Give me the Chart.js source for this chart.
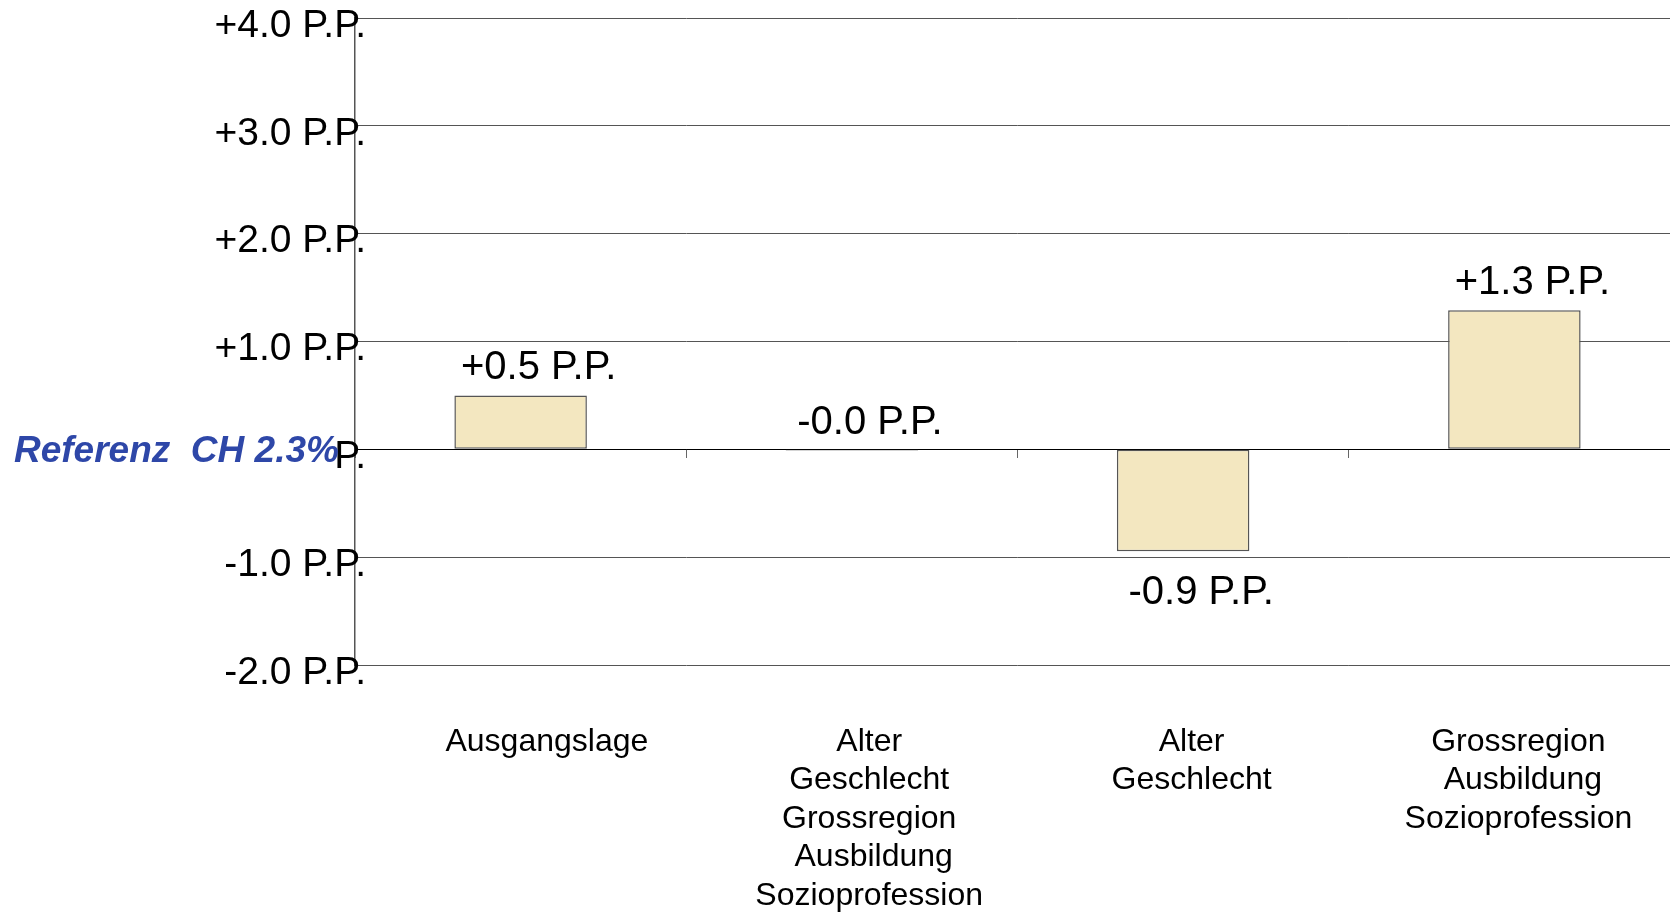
<!DOCTYPE html>
<html>
<head>
<meta charset="utf-8">
<script src="https://cdn.jsdelivr.net/npm/chart.js@4"></script>
<style>
  html, body { margin: 0; padding: 0; background: #fff; overflow: hidden; }
  #wrap { width: 1680px; height: 912px; }
</style>
</head>
<body>
<div id="wrap"><canvas id="chart" width="1680" height="912"></canvas></div>
<script>
// values
var categories = [
  ['     Ausgangslage'],
  ['   Alter', '   Geschlecht', '   Grossregion', '    Ausbildung', '   Sozioprofession'],
  [' Alter', ' Geschlecht'],
  ['Grossregion', ' Ausbildung', 'Sozioprofession']
];
var deltas = [0.5, -0.01, -0.945, 1.29];
var yTicks = [-2, -1, 0, 1, 2, 3, 4];
var referenceText = 'Referenz  CH 2.3%';

var FONT = '"Liberation Sans", Arial, sans-serif';

function pp(v) {
  var s = v.toFixed(1);
  if (s.charAt(0) !== '-') s = '+' + s;
  return s + ' P.P.';
}

// y tick labels, drawn here so they may overlap the axis line like the original
var yLabels = {
  id: 'yLabels',
  afterDraw: function (chart) {
    var ctx = chart.ctx;
    var sc = chart.scales.y;
    ctx.save();
    ctx.font = '39px ' + FONT;
    ctx.fillStyle = '#000';
    ctx.textAlign = 'right';
    ctx.textBaseline = 'middle';
    sc.ticks.forEach(function (t) {
      ctx.fillText(pp(t.value), sc.right + 11, sc.getPixelForValue(t.value) + 8);
    });
    ctx.restore();
  }
};

// value labels next to the bars
var barLabels = {
  id: 'barLabels',
  afterDatasetsDraw: function (chart) {
    var ctx = chart.ctx;
    var meta = chart.getDatasetMeta(0);
    ctx.save();
    ctx.font = '40px ' + FONT;
    ctx.fillStyle = '#000';
    ctx.textAlign = 'center';
    ctx.textBaseline = 'middle';
    meta.data.forEach(function (bar, i) {
      var v = deltas[i];
      var y = v < -0.05 ? Math.max(bar.y, bar.base) + 42 : Math.min(bar.y, bar.base) - 27;
      ctx.fillText(pp(v), bar.x + 18, y);
    });
    ctx.restore();
  }
};

// "Referenz CH 2.3%" box on the zero line
var refLabel = {
  id: 'refLabel',
  afterDraw: function (chart) {
    var ctx = chart.ctx;
    var y = chart.scales.y.getPixelForValue(0) + 2;
    ctx.save();
    ctx.fillStyle = '#fff';
    ctx.fillRect(190, y - 24, 141, 50);
    ctx.font = 'italic bold 37px ' + FONT;
    ctx.fillStyle = '#2E47A8';
    ctx.textAlign = 'left';
    ctx.textBaseline = 'middle';
    ctx.fillText(referenceText, 14, y);
    ctx.restore();
  }
};

new Chart(document.getElementById('chart'), {
  type: 'bar',
  data: {
    labels: categories,
    datasets: [{
      data: deltas,
      backgroundColor: '#F3E7C0',
      borderColor: '#555',
      borderWidth: 1.5,
      borderSkipped: false,
      barPercentage: 0.4,
      categoryPercentage: 1.0
    }]
  },
  options: {
    responsive: false,
    animation: false,
    layout: { padding: { top: 18, left: 0, right: 0, bottom: 0 } },
    plugins: {
      legend: { display: false },
      tooltip: { enabled: false }
    },
    scales: {
      x: {
        type: 'category',
        grid: { display: false },
        border: { display: false },
        ticks: {
          color: '#000',
          font: { family: FONT, size: 32 },
          padding: 50,
          labelOffset: 4,
          maxRotation: 0,
          autoSkip: false
        },
        afterFit: function (s) { s.height = 247; }
      },
      x2: {
        type: 'category',
        labels: categories,
        position: { y: 0 },
        offset: true,
        grid: {
          offset: true,
          drawOnChartArea: false,
          drawTicks: true,
          tickLength: 8,
          color: '#666'
        },
        border: { display: true, color: '#000', width: 1 },
        ticks: { display: false }
      },
      y: {
        min: -2,
        max: 4,
        afterBuildTicks: function (s) {
          s.ticks = yTicks.map(function (v) { return { value: v }; });
        },
        grid: {
          drawTicks: false,
          color: function (c) { return c.tick && c.tick.value === 0 ? '#000' : '#555'; },
          lineWidth: 1
        },
        border: { display: true, color: '#555', width: 1.5 },
        ticks: { display: false },
        afterFit: function (s) {
          s.width = 355;
          s.paddingTop = 0;
          s.paddingBottom = 0;
        }
      }
    }
  },
  plugins: [barLabels, yLabels, refLabel]
});
</script>
</body>
</html>
